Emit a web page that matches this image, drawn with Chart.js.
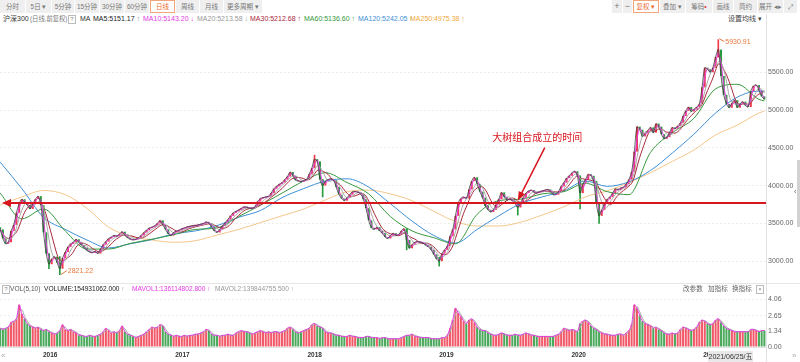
<!DOCTYPE html>
<html>
<head>
<meta charset="utf-8">
<script src="https://cdn.jsdelivr.net/npm/chart.js@4.4.0/dist/chart.umd.min.js"></script>
<style>
  body { margin: 0; width: 800px; height: 362px; overflow: hidden; background: #fff; position: relative;
         font-family: "Liberation Sans", "Noto Sans CJK SC", sans-serif; }
  .a { position: absolute; white-space: nowrap; }
  .tb { position: absolute; top: 0; height: 13px; line-height: 13px; background: #efefef; color: #777;
        font-size: 6.5px; text-align: center; box-sizing: border-box; }
  .tb.sel { background: #fff; border: 1px solid #f2a57a; color: #ee6a2c; line-height: 11px; }
  .lg { position: absolute; top: 14px; height: 10px; line-height: 10px; font-size: 7px; white-space: nowrap; }
  .vl { position: absolute; top: 284px; height: 10px; line-height: 10px; font-size: 6.6px; white-space: nowrap; }
  .q { position: absolute; border: 1px solid #bbb; color: #888; font-size: 6px; line-height: 7px; width: 6px; height: 7px; text-align: center; }
  canvas { position: absolute; left: 0; }
</style>
</head>
<body>
<!-- toolbar -->
<div class="tb" style="left:0;width:25px">分时</div>
<div class="tb" style="left:26px;width:25px">5日 ▾</div>
<div class="tb" style="left:52px;width:22px">5分钟</div>
<div class="tb" style="left:75px;width:24px">15分钟</div>
<div class="tb" style="left:100px;width:24px">30分钟</div>
<div class="tb" style="left:125px;width:24px">60分钟</div>
<div class="tb sel" style="left:150px;width:25px">日线</div>
<div class="tb" style="left:176px;width:23px">周线</div>
<div class="tb" style="left:200px;width:23px">月线</div>
<div class="tb" style="left:224px;width:38px">更多周期 ▾</div>

<div class="tb" style="left:612px;width:10px;font-size:9px">+</div>
<div class="tb" style="left:623px;width:9px;font-size:9px">−</div>
<div class="tb sel" style="left:633px;width:26px">复权 ▾</div>
<div class="tb" style="left:660px;width:25px">叠加 ▾</div>
<div class="tb" style="left:686px;width:26px">筹码<span style="color:#e0303a;font-size:7px">•</span></div>
<div class="tb" style="left:713px;width:20px">画线</div>
<div class="tb" style="left:734px;width:23px">简约</div>
<div class="tb" style="left:758px;width:25px">展开 ◂▸</div>
<div class="tb" style="left:784px;width:13px">⤢</div>

<!-- price legend -->
<div class="lg" style="left:3px;color:#333">沪深300</div>
<div class="lg" style="left:30px;color:#777;font-size:6.3px">(日线,前复权)</div>
<div class="q" style="left:68px;top:15px">?</div>
<div class="lg" style="left:80px;color:#333">MA</div>
<div class="lg" style="left:93px;color:#222">MA5:5151.17 <span style="color:#888">↑</span></div>
<div class="lg" style="left:143px;color:#e23ae2">MA10:5143.20 ↓</div>
<div class="lg" style="left:197px;color:#999">MA20:5213.58 ↓</div>
<div class="lg" style="left:250px;color:#a8283c">MA30:5212.68 ↑</div>
<div class="lg" style="left:304px;color:#35983c">MA60:5136.60 ↑</div>
<div class="lg" style="left:358px;color:#3e8fd6">MA120:5242.05 ↑</div>
<div class="lg" style="left:410px;color:#f0a93c">MA250:4975.38 ↑</div>
<div class="lg" style="left:728px;color:#444">设置均线 ▾</div>

<canvas id="price" width="800" height="259" style="top:24px"></canvas>

<div class="a" style="left:0;top:283px;width:800px;height:1px;background:#e6e6e6"></div>
<div class="a" style="left:766px;top:14px;width:1px;height:348px;background:#e2e2e2"></div>
<div class="a" style="left:797px;top:160px;width:3px;height:67px;background:#d2d2d2"></div>
<div class="a" style="left:794px;top:188px;font-size:7px;color:#555">‹</div>

<!-- volume legend -->
<div class="q" style="left:2px;top:285px">?</div>
<div class="vl" style="left:10px;color:#555">VOL(5,10)</div>
<div class="vl" style="left:44px;color:#222">VOLUME:154931062.000 <span style="color:#888">↑</span></div>
<div class="vl" style="left:132px;color:#e23ae2">MAVOL1:136114802.800 ↑</div>
<div class="vl" style="left:215px;color:#999">MAVOL2:139844755.500 ↑</div>
<div class="vl" style="left:683px;color:#666">改参数</div>
<div class="vl" style="left:708px;color:#666">加指标</div>
<div class="vl" style="left:732px;color:#666">换指标</div>
<div class="q" style="left:756px;top:285px">×</div>

<canvas id="vol" width="800" height="69" style="top:293px"></canvas>

<div class="a" style="left:1px;top:351px;font-size:8px;color:#aaa">«</div>
<div class="a" style="left:792px;top:351px;font-size:8px;color:#aaa">»</div>
<div class="a" style="left:708px;top:351px;width:45px;height:11px;line-height:11px;background:#e8e8e8;color:#333;font-size:7px;text-align:center">2021/06/25/五</div>

<script>
// weekly closes (one point per 5 trading days), Sep 2015 .. Jun 2021
const firstOpen = 3450;
const closes = [
  3420, 3300, 3230, 3250, 3400, 3480, 3640, 3760, 3820, 3780,
  3740, 3690, 3760, 3820, 3860, 3740, 3380, 3100, 2960, 3030,
  3060, 2980, 2900, 3040, 3120, 3190, 3230, 3250, 3290, 3250,
  3210, 3180, 3140, 3120, 3110, 3130, 3100, 3160, 3220, 3260,
  3300, 3320, 3340, 3330, 3360, 3390, 3340, 3310, 3290, 3280,
  3290, 3310, 3340, 3380, 3410, 3440, 3450, 3470, 3500, 3540,
  3480, 3420, 3360, 3340, 3380, 3400, 3410, 3430, 3440, 3455,
  3460, 3470, 3470, 3480, 3490, 3500, 3520, 3500, 3450, 3400,
  3380, 3420, 3470, 3510, 3550, 3600, 3640, 3660, 3680, 3700,
  3720, 3710, 3700, 3700, 3720, 3790, 3830, 3840, 3850, 3860,
  3900, 3960, 3990, 4020, 4040, 4080, 4120, 4180, 4130, 4070,
  4060, 4050, 4070, 4080, 4150, 4230, 4350, 4320, 4080, 4000,
  4060, 4080, 4090, 4070, 3980, 3880, 3830, 3800, 3840, 3880,
  3920, 3920, 3910, 3890, 3820, 3700, 3540, 3440, 3420, 3450,
  3400, 3370, 3320, 3300, 3340, 3370, 3340, 3350, 3400, 3430,
  3280, 3170, 3220, 3250, 3260, 3250, 3240, 3210, 3190, 3150,
  3090, 3030, 3000, 3100, 3150, 3200, 3330, 3420, 3600, 3770,
  3830, 3850, 3830, 3950, 4060, 4110, 4020, 3920, 3840, 3730,
  3680, 3650, 3680, 3750, 3820, 3910, 3850, 3810, 3820, 3800,
  3760, 3710, 3770, 3840, 3900, 3930, 3940, 3910, 3900, 3920,
  3930, 3940, 3950, 3920, 3880, 3880, 3920, 3990, 4040, 4100,
  4130, 4170, 4190, 4130, 3900, 4020, 4080, 4150, 4130, 4060,
  3760, 3600, 3680, 3760, 3820, 3850, 3900, 3960, 3940, 3970,
  3980, 4020, 4080, 4180, 4450, 4780, 4740, 4650, 4690, 4730,
  4770, 4700, 4820, 4780, 4680, 4620, 4640, 4700, 4770, 4750,
  4790, 4830, 4920, 4990, 5040, 4980, 5010, 5040, 5080, 5300,
  5560, 5540, 5500, 5560, 5700, 5800, 5450, 5200, 5080, 5030,
  5090, 5130, 5030, 5080, 5110, 5060, 5040, 5250, 5320, 5330,
  5260, 5180, 5140
];

// average daily volume of each week, 1e8
const volumes = [
  1.6, 1.5, 1.6, 1.7, 2.1, 2.2, 2.4, 3.6, 2.8, 2.4,
  2.0, 1.8, 1.7, 1.6, 1.7, 1.5, 1.4, 1.5, 1.3, 1.2,
  1.1, 1.2, 1.4, 1.9, 1.5, 1.4, 1.5, 1.3, 1.2, 1.0,
  1.0, 0.9, 0.9, 1.0, 0.9, 0.9, 1.0, 1.1, 1.3, 1.6,
  1.4, 1.2, 1.3, 1.2, 1.4, 1.8, 1.3, 1.1, 1.0, 0.9,
  0.8, 0.9, 1.0, 1.1, 1.3, 1.5, 1.7, 1.6, 1.7, 1.9,
  1.8, 1.3, 1.1, 1.0, 0.9, 1.0, 0.9, 0.9, 1.0, 0.9,
  1.0, 1.0, 1.1, 1.1, 1.2, 1.3, 1.5, 1.4, 1.1, 1.0,
  1.0, 0.9, 1.0, 1.0, 1.1, 1.0, 1.0, 1.2, 1.3, 1.4,
  1.3, 1.3, 1.2, 1.1, 1.2, 1.3, 1.4, 1.3, 1.2, 1.3,
  1.2, 1.3, 1.3, 1.2, 1.3, 1.4, 1.6, 1.7, 1.5, 1.3,
  1.2, 1.3, 1.4, 1.5, 1.6, 1.9, 2.0, 1.8, 1.7, 1.6,
  1.3, 1.2, 1.2, 1.1, 1.0, 1.0, 0.9, 0.9, 0.9, 1.0,
  0.9, 0.9, 0.8, 0.8, 0.8, 0.9, 0.9, 0.8, 0.8, 0.8,
  0.7, 0.8, 0.8, 0.7, 0.7, 0.7, 0.7, 0.7, 0.8, 0.9,
  1.0, 1.0, 1.1, 0.9, 0.9, 0.8, 0.8, 0.8, 0.8, 0.7,
  0.7, 0.7, 0.7, 0.8, 0.8, 1.0, 1.6, 2.3, 3.3, 2.9,
  2.6, 2.2, 2.0, 2.3, 2.4, 2.1, 1.7, 1.5, 1.4, 1.4,
  1.2, 1.1, 1.0, 1.0, 1.1, 1.2, 1.1, 1.0, 1.0, 1.0,
  1.1, 1.0, 1.0, 1.1, 1.2, 1.1, 1.0, 1.0, 0.9, 0.9,
  0.9, 0.9, 0.9, 0.9, 0.9, 1.0, 1.1, 1.3, 1.6, 1.5,
  1.4, 1.5, 1.4, 1.3, 2.0, 2.2, 2.3, 2.1, 1.8, 1.6,
  1.5, 1.3, 1.2, 1.1, 1.1, 1.0, 1.0, 1.0, 1.1, 1.1,
  1.0, 1.2, 1.4, 1.9, 3.6, 3.3, 2.7, 2.2, 2.0, 1.9,
  1.8, 1.6, 1.7, 1.5, 1.4, 1.2, 1.1, 1.1, 1.2, 1.1,
  1.2, 1.5, 1.7, 1.6, 1.5, 1.4, 1.5, 1.7, 2.1, 2.3,
  2.2, 2.0, 1.9, 2.0, 2.3, 2.4, 2.1, 1.8, 1.6, 1.5,
  1.4, 1.3, 1.3, 1.3, 1.3, 1.3, 1.3, 1.5, 1.5, 1.4,
  1.3, 1.4, 1.4
];

// long moving averages every 8 weeks
const longMaIdx = [0, 8, 16, 24, 32, 40, 48, 56, 64, 72, 80, 88, 96, 104, 112, 120, 128, 136,
  144, 152, 160, 168, 176, 184, 192, 200, 208, 216, 224, 232, 240, 248, 256, 264, 272, 280, 282];
const ma60 = [3900, 3560, 3690, 3400, 3160, 3160, 3235, 3290, 3350, 3420, 3440, 3590, 3740, 3900, 4060, 4170, 4040, 3890,
  3590, 3400, 3310, 3230, 3620, 3800, 3820, 3890, 3920, 4030, 3920, 3880, 4440, 4700, 4890, 5280, 5340, 5140, 5120];
const ma120 = [4310, 3960, 3580, 3420, 3280, 3175, 3230, 3285, 3360, 3400, 3470, 3580, 3670, 3840, 3960, 4060, 4090, 3980,
  3760, 3530, 3340, 3240, 3420, 3600, 3760, 3850, 3930, 4060, 3990, 4050, 4200, 4430, 4680, 4960, 5170, 5250, 5250];
const ma250 = [3745, 3850, 3935, 3880, 3700, 3450, 3330, 3280, 3250, 3270, 3345, 3420, 3510, 3600, 3690, 3810, 3920, 3940,
  3890, 3800, 3660, 3525, 3465, 3465, 3515, 3610, 3720, 3850, 3930, 4040, 4170, 4320, 4470, 4670, 4800, 4960, 4985];

// intraday extremes shown as wicks
const wickIdx = [18, 22, 116, 119, 150, 162, 191, 214, 221, 265];
const wickLow = [2900, 2821.22, 4300, 3850, 3150, 2935, 3610, 3690, 3500, 5700];
const wickHigh = [3100, 3060, 4403, 4080, 3430, 3050, 3770, 4130, 3760, 5930.91];

const yearTicks = [15.8, 64.6, 113.4, 162, 210.8, 259.4];
const yearLabels = ['2016', '2017', '2018', '2019', '2020', '2021'];
const priceTicks = [3000, 3500, 4000, 4500, 5000, 5500];
const volTicks = [0, 1.34, 2.65, 4.06];

const markLevel = 3770;
const noteIdx = 191, noteValue = 3800, noteText = '大树组合成立的时间';
const highIdx = 265, highValue = 5930.91;
const lowIdx = 22, lowValue = 2821.22;

const UP = '#ee3b4e', DOWN = '#2a9a3e';
const xMin = -0.07, xMax = 282.6;

function avg(arr, n) {
  return arr.map((v, i) => {
    const s = arr.slice(Math.max(0, i - n + 1), i + 1);
    return s.reduce((a, b) => a + b, 0) / s.length;
  });
}
const pts = arr => arr.map((v, i) => ({ x: i, y: v }));
const longPts = arr => longMaIdx.map((x, k) => ({ x: x, y: arr[k] }));

function line(data, color, order, extra) {
  return Object.assign({ type: 'line', data: data, borderColor: color, borderWidth: 1, pointRadius: 0,
    tension: 0.3, order: order }, extra || {});
}

const opens = closes.map((c, i) => i ? closes[i - 1] : firstOpen);
const isUp = closes.map((c, i) => c >= opens[i]);

function fixY(width) {
  return s => { s.width = width; s.paddingTop = 0; s.paddingBottom = 0; };
}

const marks = {
  id: 'marks',
  afterDatasetsDraw(chart) {
    const { ctx, chartArea, scales: { x, y } } = chart;
    ctx.save();
    // support line with arrow
    const ly = Math.round(y.getPixelForValue(markLevel));
    ctx.strokeStyle = '#d8161e';
    ctx.fillStyle = '#d8161e';
    ctx.lineWidth = 2;
    ctx.beginPath();
    ctx.moveTo(chartArea.left + 8, ly);
    ctx.lineTo(chartArea.right, ly);
    ctx.stroke();
    ctx.beginPath();
    ctx.moveTo(chartArea.left + 2, ly);
    ctx.lineTo(chartArea.left + 11, ly - 4);
    ctx.lineTo(chartArea.left + 11, ly + 4);
    ctx.closePath();
    ctx.fill();

    // note arrow
    const tx = x.getPixelForValue(noteIdx), ty = y.getPixelForValue(noteValue);
    const sx = tx + 27, sy = ty - 53;
    const ang = Math.atan2(ty - sy, tx - sx);
    ctx.lineWidth = 1.5;
    ctx.beginPath();
    ctx.moveTo(sx, sy);
    ctx.lineTo(tx - 6 * Math.cos(ang), ty - 6 * Math.sin(ang));
    ctx.stroke();
    ctx.beginPath();
    ctx.moveTo(tx, ty);
    ctx.lineTo(tx - 9 * Math.cos(ang) + 3.5 * Math.sin(ang), ty - 9 * Math.sin(ang) - 3.5 * Math.cos(ang));
    ctx.lineTo(tx - 9 * Math.cos(ang) - 3.5 * Math.sin(ang), ty - 9 * Math.sin(ang) + 3.5 * Math.cos(ang));
    ctx.closePath();
    ctx.fill();
    ctx.font = '10px "Noto Sans CJK SC"';
    ctx.textAlign = 'center';
    ctx.textBaseline = 'middle';
    ctx.fillText(noteText, sx - 7.5, sy - 10.5);

    // high / low labels
    ctx.strokeStyle = '#e8783a';
    ctx.fillStyle = '#e8783a';
    ctx.lineWidth = 1;
    ctx.font = '7px "Liberation Sans"';
    ctx.textAlign = 'left';
    const hx = x.getPixelForValue(highIdx), hy = y.getPixelForValue(highValue);
    ctx.beginPath();
    ctx.moveTo(hx + 1, hy - 1);
    ctx.lineTo(hx + 6, hy + 2);
    ctx.stroke();
    ctx.fillText(highValue.toFixed(2), hx + 7, hy + 2);
    const lx = x.getPixelForValue(lowIdx), lyy = y.getPixelForValue(lowValue);
    ctx.beginPath();
    ctx.moveTo(lx + 1, lyy);
    ctx.lineTo(lx + 7, lyy - 4);
    ctx.stroke();
    ctx.fillText(lowValue.toFixed(2), lx + 8, lyy - 4);
    ctx.restore();
  }
};

new Chart(document.getElementById('price'), {
  type: 'bar',
  data: {
    datasets: [
      line(pts(closes), '#3a3a3a', 1, { borderWidth: 0.8 }),
      line(pts(avg(closes, 2)), '#e23ae2', 2),
      line(pts(avg(closes, 4)), '#a8a8a8', 3),
      line(pts(avg(closes, 6)), '#a8283c', 4),
      line(longPts(ma60), '#35983c', 5, { cubicInterpolationMode: 'monotone' }),
      line(longPts(ma120), '#3e8fd6', 6, { cubicInterpolationMode: 'monotone' }),
      line(longPts(ma250), '#f3c78a', 7, { cubicInterpolationMode: 'monotone' }),
      {
        type: 'bar', order: 10, grouped: false, barPercentage: 0.75, categoryPercentage: 1, minBarLength: 1,
        data: closes.map((c, i) => ({ x: i, y: [opens[i], c] })),
        backgroundColor: isUp.map(u => u ? UP : DOWN)
      },
      {
        type: 'bar', order: 11, grouped: false, barThickness: 1,
        data: wickIdx.map((x, k) => ({ x: x, y: [wickLow[k], wickHigh[k]] })),
        backgroundColor: wickIdx.map(i => isUp[i] ? UP : DOWN)
      }
    ]
  },
  options: {
    responsive: false, animation: false, events: [],
    layout: { padding: 0 },
    plugins: { legend: { display: false }, tooltip: { enabled: false } },
    scales: {
      x: { type: 'linear', min: xMin, max: xMax, offset: false, display: false },
      y: {
        position: 'right', min: 2711, max: 6138,
        afterBuildTicks: s => { s.ticks = priceTicks.map(v => ({ value: v })); },
        afterFit: fixY(34),
        ticks: { callback: v => Number(v).toFixed(2), color: '#666', font: { size: 7, family: 'Liberation Sans' }, padding: 2 },
        grid: { color: '#ececec', drawTicks: false },
        border: { display: false, dash: [2, 2] }
      }
    }
  },
  plugins: [marks]
});

new Chart(document.getElementById('vol'), {
  type: 'bar',
  data: {
    datasets: [
      line(pts(volumes), '#e23ae2', 1),
      line(pts(avg(volumes, 2)), '#a8a8a8', 2),
      {
        type: 'bar', order: 10, grouped: false, barPercentage: 0.75, categoryPercentage: 1,
        data: pts(volumes),
        backgroundColor: isUp.map(u => u ? 'rgba(238,59,78,0.85)' : 'rgba(42,154,62,0.85)')
      }
    ]
  },
  options: {
    responsive: false, animation: false, events: [],
    layout: { padding: 0 },
    plugins: { legend: { display: false }, tooltip: { enabled: false } },
    scales: {
      x: {
        type: 'linear', min: xMin, max: xMax, offset: false,
        afterBuildTicks: s => { s.ticks = yearTicks.map(v => ({ value: v })); },
        afterFit: s => { s.height = 15; s.paddingLeft = 0; s.paddingRight = 0; },
        ticks: { align: 'start', autoSkip: false, maxRotation: 0, padding: 4,
                 callback: (v, i) => yearLabels[i], color: '#333',
                 font: { size: 6.5, weight: 'bold', family: 'Liberation Sans' } },
        grid: { display: false, drawTicks: false },
        border: { display: true, color: '#e2e2e2' }
      },
      y: {
        position: 'right', min: 0, max: 4.6,
        afterBuildTicks: s => { s.ticks = volTicks.map(v => ({ value: v })); },
        afterFit: fixY(34),
        ticks: { callback: v => Number(v).toFixed(2), color: '#666', font: { size: 7, family: 'Liberation Sans' }, padding: 2 },
        grid: { color: '#f0f0f0', drawTicks: false },
        border: { display: false, dash: [2, 2] }
      }
    }
  }
});
</script>
</body>
</html>
